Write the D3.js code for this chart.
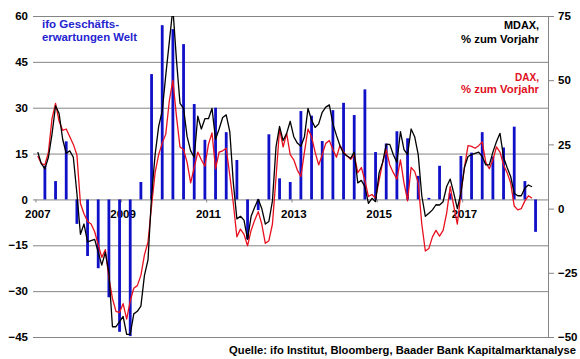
<!DOCTYPE html>
<html><head><meta charset="utf-8">
<script src="https://cdn.jsdelivr.net/npm/d3@7"></script>
<style>
html,body{margin:0;padding:0;background:#fff;}
svg{display:block;font-family:"Liberation Sans",Arial,sans-serif;font-weight:bold;}
</style></head>
<body><svg id="c" width="580" height="359"></svg>
<script>
// ---- data ----
const months = d3.range(144).map(i => `${2007 + Math.floor(i/12)}-${String(i%12+1).padStart(2,"0")}`);
const yearTicks = ["2007-01","2009-01","2011-01","2013-01","2015-01","2017-01"];
const yearLabels = ["2007","2009","2011","2013","2015","2017"];
const leftTicks = [-45,-30,-15,0,15,30,45,60];
const rightTicks = [-50,-25,0,25,50,75];

// MDAX, % yoy (monthly, Jan 2007 - Aug 2018)
const mdax = [22,17.5,15.5,20,29,40,37,27,21.5,22.5,20,6,
-10,-6,-13,-12.5,-12,-17,-22,-17,-25,-46,-46,-44,
-42,-49,-49,-41,-40,-38,-26,-20,5,21,32,38,
52,65,78,58,41,39,28,22.5,20,36,31,35,
35,39,27,31,35.5,36.5,30,10,-4,-3,-4.5,-12,
-3,0.5,3.6,0,-6,-5,3,24,32,26.5,29.3,34,
28,25.5,24.3,28,39,34.5,31.6,33,37.5,39.5,40.4,33,
28.5,24.5,21.5,20.5,19.6,22,10,11,8.5,2,4,2.7,
14,18,25,25,21,18,30,23,21,31,28,21,
5,-3,-1.8,-0.5,1.5,1.4,2.7,8.6,11.5,6,0,6,
16,20.3,21,21.5,22,20.3,17,17,22,26,29.3,20,
16,12.5,6,5,5,8,9.2,8.5];

// DAX, % yoy (monthly, Jan 2007 - Aug 2018)
const dax = [20.5,17.5,17,22,35,41,34,30.5,31,28,25,21,
2,-2,-5,-6,-9,-14,-19,-16,-27,-35,-40,-40.5,
-37,-43,-36,-31,-30,-26,-18,-13,1,14,21,25.5,
29,42,50,36,24,23,18,10,16,22,19,16.5,
25,29.5,15.5,22,22.5,23.5,13,2,-11,-8,-10,-14.5,
-8.5,-4.5,-1.2,-6,-13.5,-12.5,-6,12,31,24,29.3,21,
19,15,12.5,22,31,28,22,17,21,25.4,26.5,23,
20,24.6,22,20.5,19.2,21,14,16,11,4.7,5.5,4,
11,18,23,17,14,11.5,19,10,3,16,14.5,10,
-6,-16.5,-15.5,-11,-8.5,-10.7,-8.5,-1.8,8.6,1,-6,6,
16,24.5,24.2,23.5,24.5,26,18,15.5,19,24,22,17,
14,10,1,-0.5,0,3,5,4];

// ifo Geschäftserwartungen Welt (quarterly, Q1 2007 - Q3 2018, plotted at quarter's last month)
const ifoMonths = d3.range(47).map(q => months[q*3+2]);
const ifo = [11,6,19,-8,
-18.5,-22.5,-32,-43.3,
-44.7,5.7,41,57,
55.7,50.8,31.2,19.5,
30,22,12.9,-13,
-3.5,21.3,6.9,5.7,
28.9,27.4,19.1,29.2,
31.6,27.6,36,15.5,
18.3,22.3,20,7.7,
0.5,11,2,14.2,
15.3,22,14,17,
23.8,6,-10.6];

// ---- chart ----
const svg = d3.select("#c");
const L = 36, R = 548, T = 16, B = 337;
const x = d3.scaleBand().domain(months).range([L, R]).padding(0);
const bw = x.bandwidth();
const cx = m => x(m) + bw/2;
const yL = d3.scaleLinear().domain([-45, 60]).range([B, T]);
const yR = d3.scaleLinear().domain([-50, 75]).range([B, T]);
const gridCol = "#858585";

// left axis with grid
const gL = svg.append("g").attr("transform", `translate(${L},0)`)
  .call(d3.axisLeft(yL).tickValues(leftTicks).tickSize(3).tickPadding(5));
gL.select(".domain").remove();
gL.selectAll(".tick line").attr("x1", -3).attr("x2", R - L).attr("stroke", gridCol);
gL.selectAll(".tick text").attr("font-size", "11.5px").attr("font-weight", "bold")
  .attr("font-family", "Liberation Sans, Arial, sans-serif").attr("fill", "#000");

// right axis
const gR = svg.append("g").attr("transform", `translate(${R},0)`)
  .call(d3.axisRight(yR).tickValues(rightTicks).tickSize(6).tickPadding(4));
gR.select(".domain").attr("stroke", gridCol);
gR.selectAll(".tick line").attr("stroke", gridCol);
gR.selectAll(".tick text").attr("font-size", "11.5px").attr("font-weight", "bold")
  .attr("font-family", "Liberation Sans, Arial, sans-serif").attr("fill", "#000");

// x axis on zero line
const gX = svg.append("g").attr("transform", `translate(0,${yL(0)})`)
  .call(d3.axisBottom(x).tickValues(yearTicks).tickSize(3).tickPadding(7)
    .tickFormat((d, i) => yearLabels[i]));
gX.select(".domain").remove();
gX.selectAll(".tick line").attr("stroke", gridCol).attr("transform", `translate(${-bw/2},0)`);
gX.selectAll(".tick text").attr("font-size", "11.5px").attr("font-weight", "bold")
  .attr("font-family", "Liberation Sans, Arial, sans-serif").attr("fill", "#000");

// clip
svg.append("clipPath").attr("id", "clip").append("rect")
  .attr("x", L).attr("y", T).attr("width", R - L).attr("height", B - T);

// bars
svg.append("g").selectAll("rect").data(ifo).join("rect")
  .attr("x", (d, i) => cx(ifoMonths[i]) - 1.4)
  .attr("width", 2.8)
  .attr("y", d => yL(Math.max(0, d)))
  .attr("height", d => Math.abs(yL(d) - yL(0)))
  .attr("fill", "#1010c8");

const line = d3.line().x((d, i) => cx(months[i])).y(d => yR(d));
const gLines = svg.append("g").attr("clip-path", "url(#clip)");
gLines.append("path").datum(dax).attr("d", line).attr("fill", "none")
  .attr("stroke", "#e8101e").attr("stroke-width", 1.3).attr("stroke-linejoin", "round");
gLines.append("path").datum(mdax).attr("d", line).attr("fill", "none")
  .attr("stroke", "#000").attr("stroke-width", 1.3).attr("stroke-linejoin", "round");

// legend texts
function txt(s, xx, yy, col, anchor, len, size) {
  const t = svg.append("text").attr("x", xx).attr("y", yy).attr("fill", col)
    .attr("text-anchor", anchor).attr("font-size", size || "11.5px").attr("font-weight", "bold")
    .attr("font-family", "Liberation Sans, Arial, sans-serif").text(s);
  if (len) t.attr("textLength", len).attr("lengthAdjust", "spacingAndGlyphs");
}
txt("ifo Geschäfts-", 42, 28.3, "#2424d0", "start", 77);
txt("erwartungen Welt", 42, 40.7, "#2424d0", "start", 95);
txt("MDAX,", 539, 29.3, "#000", "end", 35);
txt("% zum Vorjahr", 539, 42.5, "#000", "end", 78);
txt("DAX,", 539, 80.5, "#e0101e", "end", 24);
txt("% zum Vorjahr", 539, 92.5, "#e0101e", "end", 78);
txt("Quelle: ifo Institut, Bloomberg, Baader Bank Kapitalmarktanalyse", 576, 353.5, "#000", "end", null, "11.2px");
</script></body></html>
